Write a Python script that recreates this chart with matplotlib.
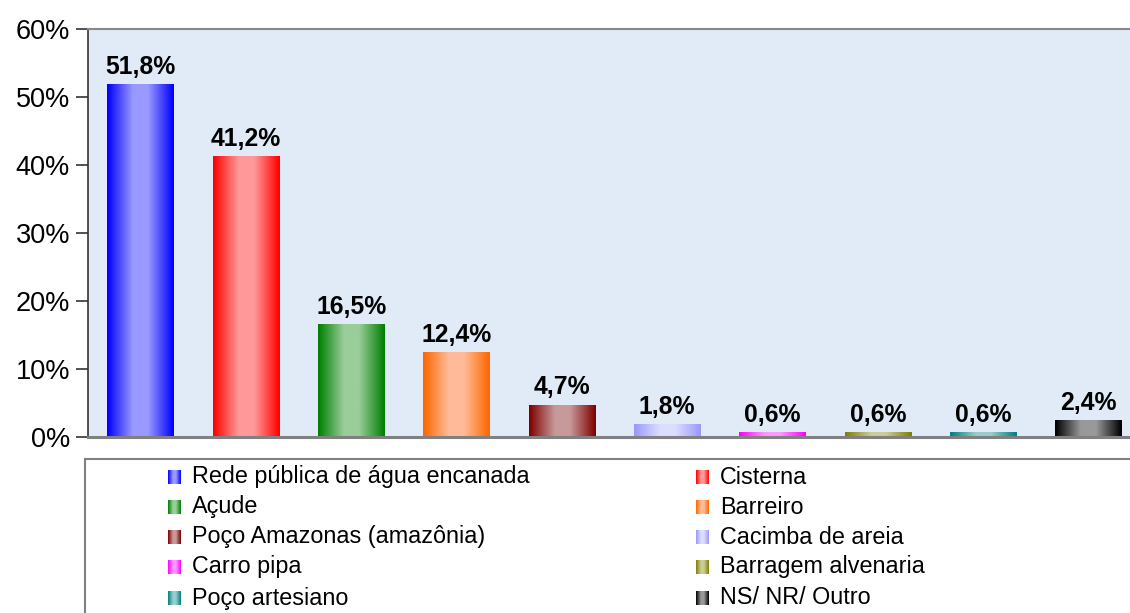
import numpy as np
import matplotlib.pyplot as plt
from matplotlib.patches import Rectangle
from matplotlib.colors import to_rgb

# data
categories = ["Rede pública de água encanada", "Cisterna", "Açude", "Barreiro",
              "Poço Amazonas (amazônia)", "Cacimba de areia", "Carro pipa",
              "Barragem alvenaria", "Poço artesiano", "NS/ NR/ Outro"]
values = [51.8, 41.2, 16.5, 12.4, 4.7, 1.8, 0.6, 0.6, 0.6, 2.4]
labels = ["51,8%", "41,2%", "16,5%", "12,4%", "4,7%", "1,8%", "0,6%", "0,6%", "0,6%", "2,4%"]
edge_colors = ["#0000FF", "#FF0000", "#008000", "#FF6600", "#800000",
               "#9999FF", "#FF00FF", "#808000", "#008080", "#000000"]
mid_colors = ["#9999FF", "#FF9999", "#9ACD9A", "#FFBB99", "#C79999",
              "#DDDDFF", "#FF99FF", "#CCCC99", "#99CCCC", "#999999"]
yticks = [0, 10, 20, 30, 40, 50, 60]

plt.rcParams['font.family'] = ['Liberation Sans', 'DejaVu Sans']

W, H = 1130, 613
fig = plt.figure(figsize=(W / 100, H / 100), dpi=100)
ax = fig.add_axes([88 / W, (H - 437) / H, 1053 / W, 408 / H])
ax.set_facecolor("#e1ebf7")


def gradient(c_edge, c_mid, n=64):
    a = np.array(to_rgb(c_edge))
    b = np.array(to_rgb(c_mid))
    t = np.linspace(0, 1, n)
    w = 1 - np.abs(2 * t - 1)
    w = np.clip(w * 1.3, 0, 1)
    return (a[None, :] * (1 - w[:, None]) + b[None, :] * w[:, None])[None, :, :]


bw = 0.63
for i, v in enumerate(values):
    img = gradient(edge_colors[i], mid_colors[i])
    ax.imshow(img, extent=[i - bw / 2, i + bw / 2, 0, v], aspect='auto',
              interpolation='bilinear', zorder=2)
    ax.annotate(labels[i], (i, v), xytext=(0, 4), textcoords='offset points',
                ha='center', va='bottom', fontsize=17.8, fontweight='bold', zorder=3)

ax.set_xlim(-0.5, len(values) - 0.5)
ax.set_ylim(0, 60)
ax.set_yticks(yticks)
ax.set_yticklabels([f"{t}%" for t in yticks], fontsize=19.5)
ax.set_xticks([])
ax.tick_params(axis='y', direction='out', length=9, width=1.2, color='#333333', pad=4)
ax.spines['left'].set_color('#333333')
ax.spines['left'].set_linewidth(1.2)
ax.spines['top'].set_color('#888888')
ax.spines['top'].set_linewidth(1.5)
ax.spines['bottom'].set_color('#808080')
ax.spines['bottom'].set_linewidth(2.2)
ax.spines['right'].set_visible(False)

# legend frame
fig.patches.append(Rectangle((85 / W, -0.05), 1.1, (H - 459) / H + 0.05,
                             transform=fig.transFigure, fill=False,
                             edgecolor='#808080', linewidth=1.5))

col_x = [168, 696]
row_y = [477, 507, 537, 567, 598]
sq = 14
for i, name in enumerate(categories):
    r, c = i // 2, i % 2
    x0, yc = col_x[c], row_y[r]
    img = gradient(edge_colors[i], mid_colors[i])
    fax = fig.add_axes([x0 / W, (H - yc - sq / 2) / H, 13 / W, sq / H])
    fax.imshow(img, aspect='auto', interpolation='bilinear')
    fax.axis('off')
    fig.text((x0 + 24) / W, (H - yc) / H, name, fontsize=16.8, va='center', ha='left')

fig.savefig("out.png", dpi=100)
